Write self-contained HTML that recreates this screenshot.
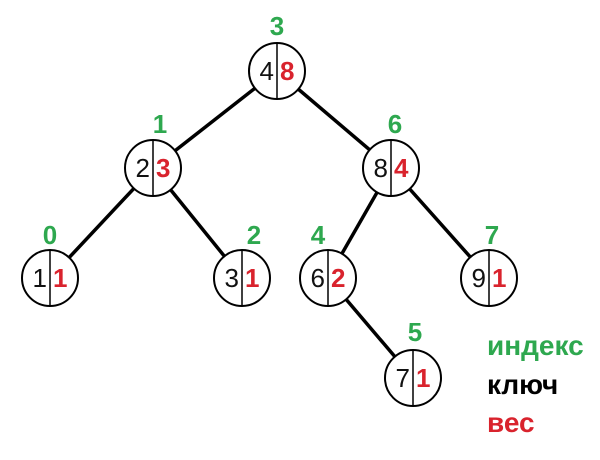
<!DOCTYPE html>
<html><head><style>body{margin:0;background:#fff}</style></head><body>
<svg width="600" height="455" xmlns="http://www.w3.org/2000/svg" font-family="Liberation Sans, sans-serif">
<g stroke="#000" stroke-width="3.5">
<line x1="277" y1="71" x2="153" y2="168"/><line x1="277" y1="71" x2="391" y2="168"/>
<line x1="153" y1="168" x2="50" y2="278"/><line x1="153" y1="168" x2="242" y2="278"/>
<line x1="391" y1="168" x2="328" y2="278"/><line x1="391" y1="168" x2="489" y2="278"/>
<line x1="328" y1="278" x2="413" y2="378"/>
</g>
<g fill="#fff" stroke="#000" stroke-width="2">
<circle cx="277" cy="71" r="28"/><circle cx="153" cy="168" r="28"/><circle cx="391" cy="168" r="28"/>
<circle cx="50" cy="278" r="28"/><circle cx="242" cy="278" r="28"/><circle cx="328" cy="278" r="28"/>
<circle cx="489" cy="278" r="28"/><circle cx="413" cy="378" r="28"/>
</g>
<g stroke="#000" stroke-width="1.5">
<line x1="277" y1="43" x2="277" y2="99"/><line x1="153" y1="140" x2="153" y2="196"/><line x1="391" y1="140" x2="391" y2="196"/>
<line x1="50" y1="250" x2="50" y2="306"/><line x1="242" y1="250" x2="242" y2="306"/><line x1="328" y1="250" x2="328" y2="306"/>
<line x1="489" y1="250" x2="489" y2="306"/><line x1="413" y1="350" x2="413" y2="406"/>
</g>
<g font-size="26" fill="#111" text-anchor="end">
<text x="274" y="80">4</text><text x="150" y="177">2</text><text x="388" y="177">8</text>
<text x="47" y="287">1</text><text x="239" y="287">3</text><text x="325" y="287">6</text>
<text x="486" y="287">9</text><text x="410" y="387">7</text>
</g>
<g font-size="26" fill="#d9232d" font-weight="bold">
<text x="280" y="80">8</text><text x="156" y="177">3</text><text x="394" y="177">4</text>
<text x="53" y="287">1</text><text x="245" y="287">1</text><text x="331" y="287">2</text>
<text x="492" y="287">1</text><text x="416" y="387">1</text>
</g>
<g font-size="26" fill="#2ea84f" font-weight="bold" text-anchor="middle">
<text x="277" y="35">3</text><text x="160" y="133">1</text><text x="395" y="133">6</text>
<text x="50" y="244">0</text><text x="254" y="244">2</text><text x="318" y="244">4</text>
<text x="492" y="244">7</text><text x="415" y="341">5</text>
</g>
<g font-size="28" font-weight="bold">
<text x="487" y="355" fill="#2ea84f">индекс</text>
<text x="487" y="394" fill="#000">ключ</text>
<text x="487" y="432" fill="#d9232d">вес</text>
</g>
</svg>
</body></html>
